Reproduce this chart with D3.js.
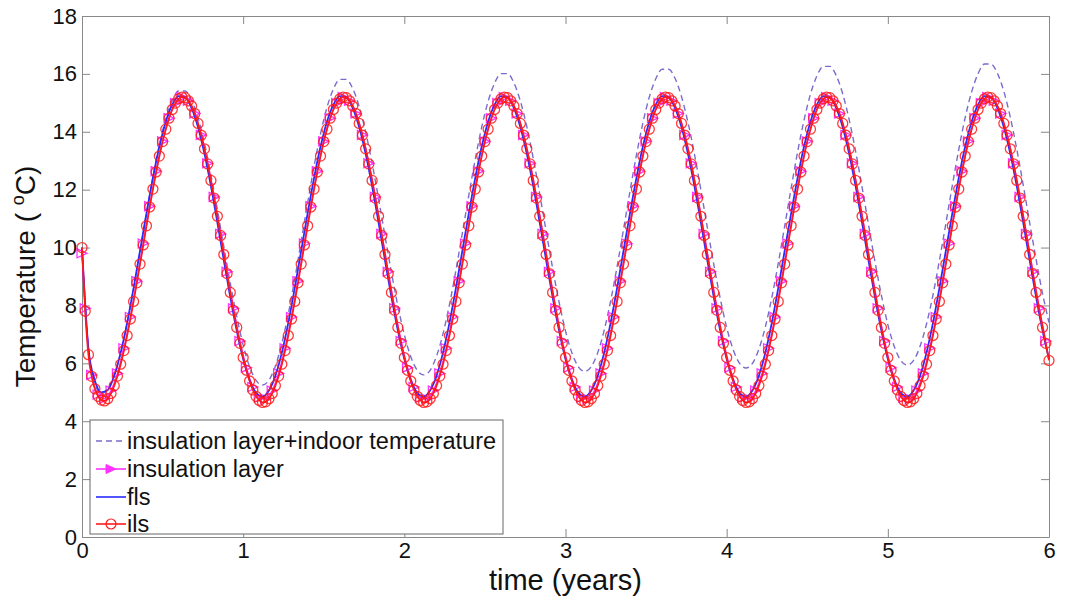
<!DOCTYPE html>
<html>
<head>
<meta charset="utf-8">
<script src="https://cdn.jsdelivr.net/npm/d3@7"></script>
<style>
  body { margin: 0; background: #fff; }
  #graph { width: 1068px; height: 597px; }
  text { font-family: "Liberation Sans", Arial, sans-serif; }
</style>
</head>
<body>
<div id="graph"></div>
<script>
// tick values
var xTicks = [0, 1, 2, 3, 4, 5, 6];
var yTicks = [0, 2, 4, 6, 8, 10, 12, 14, 16, 18];

// ils (red, circles), sampled every 0.02 year
var ilsStep = 0.02;
var ilsTemp = [
  10.00,7.80,6.30,5.55,5.12,4.86,4.73,4.70,4.78,4.96,5.23,5.56,5.97,6.44,6.96,7.53,8.14,8.78,9.43,10.09,10.75,11.40,12.02,12.61,13.16,
  13.66,14.09,14.47,14.77,14.99,15.14,15.20,15.18,15.07,14.89,14.63,14.29,13.88,13.41,12.89,12.32,11.71,11.08,10.42,9.76,9.10,8.45,7.83,7.24,6.69,
  6.20,5.76,5.39,5.08,4.86,4.72,4.65,4.67,4.78,4.96,5.23,5.56,5.97,6.44,6.96,7.53,8.14,8.78,9.43,10.09,10.75,11.40,12.02,12.61,13.16,
  13.66,14.09,14.47,14.77,14.99,15.14,15.20,15.18,15.07,14.89,14.63,14.29,13.88,13.41,12.89,12.32,11.71,11.08,10.42,9.76,9.10,8.45,7.83,7.24,6.69,
  6.20,5.76,5.39,5.08,4.86,4.72,4.65,4.67,4.78,4.96,5.23,5.56,5.97,6.44,6.96,7.53,8.14,8.78,9.43,10.09,10.75,11.40,12.02,12.61,13.16,
  13.66,14.09,14.47,14.77,14.99,15.14,15.20,15.18,15.07,14.89,14.63,14.29,13.88,13.41,12.89,12.32,11.71,11.08,10.42,9.76,9.10,8.45,7.83,7.24,6.69,
  6.20,5.76,5.39,5.08,4.86,4.72,4.65,4.67,4.78,4.96,5.23,5.56,5.97,6.44,6.96,7.53,8.14,8.78,9.43,10.09,10.75,11.40,12.02,12.61,13.16,
  13.66,14.09,14.47,14.77,14.99,15.14,15.20,15.18,15.07,14.89,14.63,14.29,13.88,13.41,12.89,12.32,11.71,11.08,10.42,9.76,9.10,8.45,7.83,7.24,6.69,
  6.20,5.76,5.39,5.08,4.86,4.72,4.65,4.67,4.78,4.96,5.23,5.56,5.97,6.44,6.96,7.53,8.14,8.78,9.43,10.09,10.75,11.40,12.02,12.61,13.16,
  13.66,14.09,14.47,14.77,14.99,15.14,15.20,15.18,15.07,14.89,14.63,14.29,13.88,13.41,12.89,12.32,11.71,11.08,10.42,9.76,9.10,8.45,7.83,7.24,6.69,
  6.20,5.76,5.39,5.08,4.86,4.72,4.65,4.67,4.78,4.96,5.23,5.56,5.97,6.44,6.96,7.53,8.14,8.78,9.43,10.09,10.75,11.40,12.02,12.61,13.16,
  13.66,14.09,14.47,14.77,14.99,15.14,15.20,15.18,15.07,14.89,14.63,14.29,13.88,13.41,12.89,12.32,11.71,11.08,10.42,9.76,9.10,8.45,7.83,7.24,6.69,
  6.10
];

// insulation layer (magenta, triangles): t = 0, then 0.02, 0.06, ... 5.98
var insYears = [0].concat(d3.range(0.02, 6, 0.04));
var insTemp = [
  9.80,
  7.90,5.60,4.92,4.78,5.06,5.65,6.52,7.60,8.84,10.14,11.43,12.64,13.67,14.47,14.99,15.20,15.07,14.63,13.89,12.91,11.75,10.47,9.16,7.90,6.77,
  5.85,5.18,4.81,4.77,5.06,5.65,6.52,7.60,8.84,10.14,11.43,12.64,13.67,14.47,14.99,15.20,15.07,14.63,13.89,12.91,11.75,10.47,9.16,7.90,6.77,
  5.85,5.18,4.81,4.77,5.06,5.65,6.52,7.60,8.84,10.14,11.43,12.64,13.67,14.47,14.99,15.20,15.07,14.63,13.89,12.91,11.75,10.47,9.16,7.90,6.77,
  5.85,5.18,4.81,4.77,5.06,5.65,6.52,7.60,8.84,10.14,11.43,12.64,13.67,14.47,14.99,15.20,15.07,14.63,13.89,12.91,11.75,10.47,9.16,7.90,6.77,
  5.85,5.18,4.81,4.77,5.06,5.65,6.52,7.60,8.84,10.14,11.43,12.64,13.67,14.47,14.99,15.20,15.07,14.63,13.89,12.91,11.75,10.47,9.16,7.90,6.77,
  5.85,5.18,4.81,4.77,5.06,5.65,6.52,7.60,8.84,10.14,11.43,12.64,13.67,14.47,14.99,15.20,15.07,14.63,13.89,12.91,11.75,10.47,9.16,7.90,6.77
];

// fls (blue), every 0.04 year
var flsStep = 0.04;
var flsTemp = [
  10.00,6.50,5.40,5.00,5.08,5.57,6.37,7.40,8.60,9.89,11.18,12.41,13.49,14.35,14.94,15.23,15.19,14.82,14.16,13.24,12.12,10.86,9.56,8.29,7.13,
  6.15,5.42,4.98,4.85,5.06,5.57,6.37,7.40,8.60,9.89,11.18,12.41,13.49,14.35,14.94,15.23,15.19,14.82,14.16,13.24,12.12,10.86,9.56,8.29,7.13,
  6.15,5.42,4.98,4.85,5.06,5.57,6.37,7.40,8.60,9.89,11.18,12.41,13.49,14.35,14.94,15.23,15.19,14.82,14.16,13.24,12.12,10.86,9.56,8.29,7.13,
  6.15,5.42,4.98,4.85,5.06,5.57,6.37,7.40,8.60,9.89,11.18,12.41,13.49,14.35,14.94,15.23,15.19,14.82,14.16,13.24,12.12,10.86,9.56,8.29,7.13,
  6.15,5.42,4.98,4.85,5.06,5.57,6.37,7.40,8.60,9.89,11.18,12.41,13.49,14.35,14.94,15.23,15.19,14.82,14.16,13.24,12.12,10.86,9.56,8.29,7.13,
  6.15,5.42,4.98,4.85,5.06,5.57,6.37,7.40,8.60,9.89,11.18,12.41,13.49,14.35,14.94,15.23,15.19,14.82,14.16,13.24,12.12,10.86,9.56,8.29,7.13,
  6.15
];

// insulation layer + indoor temperature (dashed), every 0.04 year
var indoorTemp = [
  10.00,6.50,5.30,4.95,5.11,5.60,6.37,7.39,8.58,9.87,11.18,12.44,13.55,14.45,15.08,15.41,15.41,15.09,14.48,13.60,12.52,11.31,10.03,8.77,7.62,
  6.63,5.88,5.41,5.25,5.42,5.91,6.69,7.71,8.91,10.22,11.54,12.81,13.93,14.84,15.48,15.81,15.81,15.49,14.87,13.99,12.91,11.69,10.40,9.14,7.98,
  6.99,6.23,5.76,5.60,5.76,6.25,7.02,8.03,9.21,10.50,11.80,13.05,14.16,15.05,15.68,16.01,16.01,15.69,15.06,14.18,13.08,11.85,10.56,9.29,8.12,
  7.12,6.36,5.88,5.72,5.89,6.37,7.14,8.15,9.34,10.63,11.94,13.19,14.30,15.20,15.83,16.16,16.16,15.84,15.21,14.32,13.23,11.99,10.70,9.42,8.25,
  7.24,6.48,6.00,5.84,6.00,6.49,7.26,8.27,9.45,10.74,12.05,13.30,14.40,15.30,15.93,16.26,16.26,15.94,15.31,14.42,13.33,12.09,10.80,9.52,8.35,
  7.34,6.58,6.10,5.94,6.10,6.59,7.36,8.36,9.55,10.83,12.14,13.38,14.49,15.38,16.01,16.34,16.34,16.02,15.39,14.50,13.40,12.16,10.86,9.59,8.41,
  7.41
];

var legendNames = ["insulation layer+indoor temperature", "insulation layer", "fls", "ils"];

var margin = {top: 16, right: 19, bottom: 60, left: 82},
    width = 1068 - margin.left - margin.right,
    height = 597 - margin.top - margin.bottom;

var x = d3.scaleLinear().domain([0, 6]).range([0, width]);
var y = d3.scaleLinear().domain([0, 18]).range([height, 0]);

var svg = d3.select("#graph").append("svg")
    .attr("width", 1068)
    .attr("height", 597)
  .append("g")
    .attr("transform", "translate(" + margin.left + "," + margin.top + ")");

var axisColor = "#888";

// axes with inward ticks
var gx = svg.append("g")
    .attr("transform", "translate(0," + height + ")")
    .call(d3.axisBottom(x).tickValues(xTicks).tickFormat(d3.format("d"))
      .tickSizeInner(-8).tickSizeOuter(0).tickPadding(5));
var gy = svg.append("g")
    .call(d3.axisLeft(y).tickValues(yTicks).tickFormat(d3.format("d"))
      .tickSizeInner(-8).tickSizeOuter(0).tickPadding(5));
var gt = svg.append("g")
    .call(d3.axisTop(x).tickValues(xTicks).tickSizeInner(-8).tickSizeOuter(0).tickFormat(""));
var gr = svg.append("g")
    .attr("transform", "translate(" + width + ",0)")
    .call(d3.axisRight(y).tickValues(yTicks).tickSizeInner(-8).tickSizeOuter(0).tickFormat(""));

[gx, gy, gt, gr].forEach(function(g) {
  g.selectAll("path, line").attr("stroke", axisColor);
  g.selectAll("text").attr("fill", "#111").style("font-size", "22px")
    .style("font-family", "'Liberation Sans', Arial, sans-serif");
});

var lineIls = d3.line()
    .x(function(d, i) { return x(i * ilsStep); })
    .y(function(d) { return y(d); })
    .curve(d3.curveMonotoneX);
var lineFls = d3.line()
    .x(function(d, i) { return x(i * flsStep); })
    .y(function(d) { return y(d); })
    .curve(d3.curveMonotoneX);
var lineIns = d3.line()
    .x(function(d, i) { return x(insYears[i]); })
    .y(function(d) { return y(d); })
    .curve(d3.curveMonotoneX);

var dashColor = "#7a6ccc", magenta = "#ff33ff", blue = "#2a2aff", red = "#ff1a1a";
var triangle = "M-5,-4.5L5,0L-5,4.5Z";

// dashed: insulation layer + indoor temperature
svg.append("path").datum(indoorTemp)
    .attr("d", lineFls)
    .attr("fill", "none").attr("stroke", dashColor)
    .attr("stroke-width", 1.4).attr("stroke-dasharray", "6,4");

// insulation layer
svg.append("path").datum(insTemp)
    .attr("d", lineIns)
    .attr("fill", "none").attr("stroke", magenta).attr("stroke-width", 1.5);
svg.selectAll(".tri").data(insTemp).enter().append("path")
    .attr("class", "tri")
    .attr("d", triangle)
    .attr("transform", function(d, i) { return "translate(" + x(insYears[i]) + "," + y(d) + ")"; })
    .attr("fill", "none").attr("stroke", magenta).attr("stroke-width", 1.3);

// fls
svg.append("path").datum(flsTemp)
    .attr("d", lineFls)
    .attr("fill", "none").attr("stroke", blue).attr("stroke-width", 1.8);

// ils
svg.append("path").datum(ilsTemp)
    .attr("d", lineIls)
    .attr("fill", "none").attr("stroke", red).attr("stroke-width", 1.8);
svg.selectAll(".dot").data(ilsTemp).enter().append("circle")
    .attr("class", "dot")
    .attr("cx", function(d, i) { return x(i * ilsStep); })
    .attr("cy", function(d) { return y(d); })
    .attr("r", 5)
    .attr("fill", "none").attr("stroke", red).attr("stroke-opacity", 0.85).attr("stroke-width", 1.3);

// legend
var legend = svg.append("g").attr("transform", "translate(8," + (height - 117) + ")");
legend.append("rect")
    .attr("width", 413).attr("height", 114)
    .attr("fill", "#fff").attr("stroke", "#666").attr("stroke-width", 1);
var rowY = [21, 49, 77, 104];
var styles = [
  {color: dashColor, dash: "6,4", marker: null},
  {color: magenta, dash: null, marker: "tri"},
  {color: blue, dash: null, marker: null},
  {color: red, dash: null, marker: "dot"}
];
legendNames.forEach(function(name, i) {
  var row = legend.append("g").attr("transform", "translate(0," + rowY[i] + ")");
  var s = styles[i];
  row.append("line").attr("x1", 6).attr("x2", 36).attr("y1", 0).attr("y2", 0)
      .attr("stroke", s.color).attr("stroke-width", 1.6)
      .attr("stroke-dasharray", s.dash);
  if (s.marker === "tri") {
    row.append("path").attr("d", triangle).attr("transform", "translate(21,0)")
        .attr("fill", s.color).attr("stroke", s.color);
  } else if (s.marker === "dot") {
    row.append("circle").attr("cx", 21).attr("cy", 0).attr("r", 5)
        .attr("fill", "none").attr("stroke", s.color).attr("stroke-width", 1.2);
  }
  row.append("text").attr("x", 37).attr("y", 8)
      .style("font-size", "23.5px").attr("fill", "#111").text(name);
});

// axis titles
svg.append("text")
    .attr("x", width / 2).attr("y", height + 53)
    .attr("text-anchor", "middle")
    .style("font-size", "29px").attr("fill", "#111")
    .text("time (years)");

var yl = svg.append("text")
    .attr("transform", "translate(-47," + (height / 2) + ") rotate(-90)")
    .attr("text-anchor", "middle")
    .style("font-size", "28px").attr("fill", "#111");
yl.append("tspan").text("Temperature ( ");
yl.append("tspan").attr("dy", -11).style("font-size", "18px").text("o");
yl.append("tspan").attr("dy", 11).text("C)");
</script>
</body>
</html>
